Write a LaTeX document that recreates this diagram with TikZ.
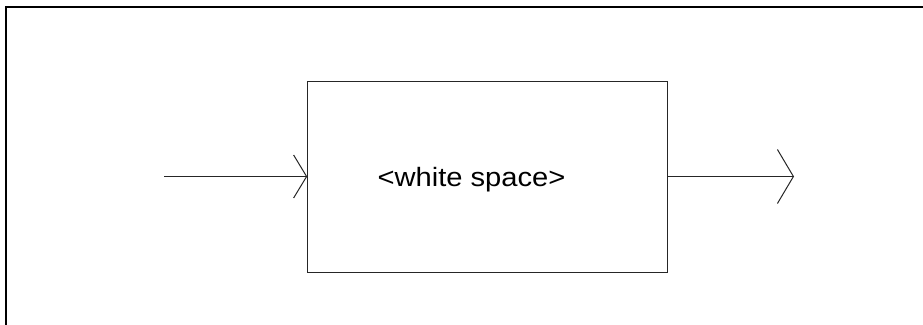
\documentclass[tikz,border=0pt]{standalone}
\usepackage{fontspec}
\setmainfont{Liberation Sans}
\usetikzlibrary{arrows.meta}
\begin{document}
\begin{tikzpicture}[x=1pt,y=-1pt,
  frameline/.style={line width=2.6pt,black},
  boxstyle/.style={draw=black!85,line width=1pt,minimum width=360pt,minimum height=191pt,inner sep=0pt},
  flow/.style={line width=1pt,draw=black!85},
  lbl/.style={font=\fontsize{26.5}{30}\selectfont,inner sep=0pt,anchor=base}]
\useasboundingbox (0,0) rectangle (923,324);
\draw[frameline] (6,330) -- (6,7) -- (930,7);
\node[boxstyle] (box) at (487.7,176.5) {};
\node[lbl] (txt) at (471.5,186.5) {\scalebox{1.1}[1]{<white space>}};
\coordinate (inStart) at (164,176.5);
\coordinate (outEnd) at (794,176.5);
\draw[flow,-{Straight Barb[length=13pt,width=43pt,line width=1pt]}] (inStart) -- (box.west);
\draw[flow,-{Straight Barb[length=16pt,width=54pt,line width=1pt]}] (box.east) -- (outEnd);
\end{tikzpicture}
\end{document}
